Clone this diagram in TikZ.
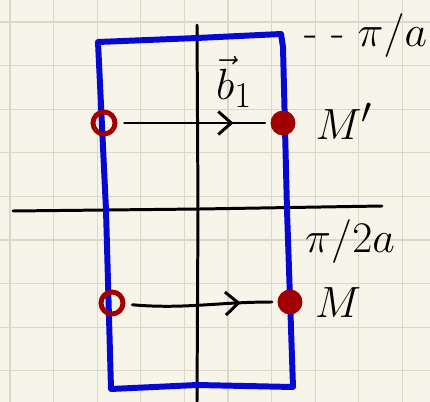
\documentclass[tikz,border=0pt]{standalone}
\usepackage{amsmath,amssymb}
\usepackage{xcolor}
\usepackage{tikz}
\usetikzlibrary{arrows.meta,decorations.markings}

\definecolor{paper}{RGB}{247,245,234}
\definecolor{gridc}{RGB}{218,216,202}
\definecolor{zoneblue}{RGB}{8,8,212}
\definecolor{ptred}{RGB}{160,0,0}

\begin{document}
\begin{tikzpicture}[
  x=0.02cm, y=-0.02cm,
  gridline/.style={draw=gridc, line width=0.7pt},
  ax/.style={line width=1.7pt, line cap=round},
  zone/.style={draw=zoneblue, line width=3.4pt, line join=round, line cap=round},
  opn/.style={circle, draw=ptred, line width=2.8pt, minimum size=0.44cm, inner sep=0pt},
  fil/.style={circle, fill=ptred, minimum size=0.5cm, inner sep=0pt},
  lab/.style={font=\Huge, inner sep=1pt},
  trans/.style={line width=1.7pt, line cap=round, shorten <=4pt, shorten >=3pt,
    decoration={markings, mark=at position 0.76 with {\arrow{Straight Barb[length=2.6mm,width=4.6mm]}}},
    postaction={decorate}}]

% ---- squared paper -------------------------------------------------------
\fill[paper] (0,0) rectangle (430,402);
\useasboundingbox (0,0) rectangle (430,402);
\foreach \gx in {0,...,9}
  \draw[gridline] ({10+43.6*\gx},0) -- ({10+43.6*\gx},402);
\foreach \gy in {0,...,8}
  \draw[gridline] (0,{22+43.6*\gy}) -- (430,{22+43.6*\gy});

% ---- axes and zone -------------------------------------------------------
\draw[ax] (13,211) -- (200,209) -- (382,206);
\draw[ax] (197,25) -- (198,210) -- (197,402);
\draw[zone] (98,42) -- (197,38) -- (281,34) -- (283,47) -- (287,210)
  -- (293,387) -- (197,385) -- (111,389) -- (106,210) -- cycle;

% ---- points --------------------------------------------------------------
\node[opn] (O1) at (104,123) {};
\node[fil] (M1) at (283,123) {};
\node[opn] (O2) at (112,303) {};
\node[fil] (M2) at (290,302) {};

\draw[trans] (O1) -- (M1);
\draw[trans] (O2) to[out=-5,in=180] (M2);

% ---- labels --------------------------------------------------------------
\node[lab] (B1) at (234,82) {$\vec{b}_1$};
\node[lab] (LM1) at (344,121) {$M'$};
\node[lab] (LM2) at (338,303) {$M$};
\node[lab] (PA) at (366,36) {- - $\pi/a$};
\node[lab] (P2A) at (350,242) {$\pi/2a$};

\end{tikzpicture}
\end{document}
